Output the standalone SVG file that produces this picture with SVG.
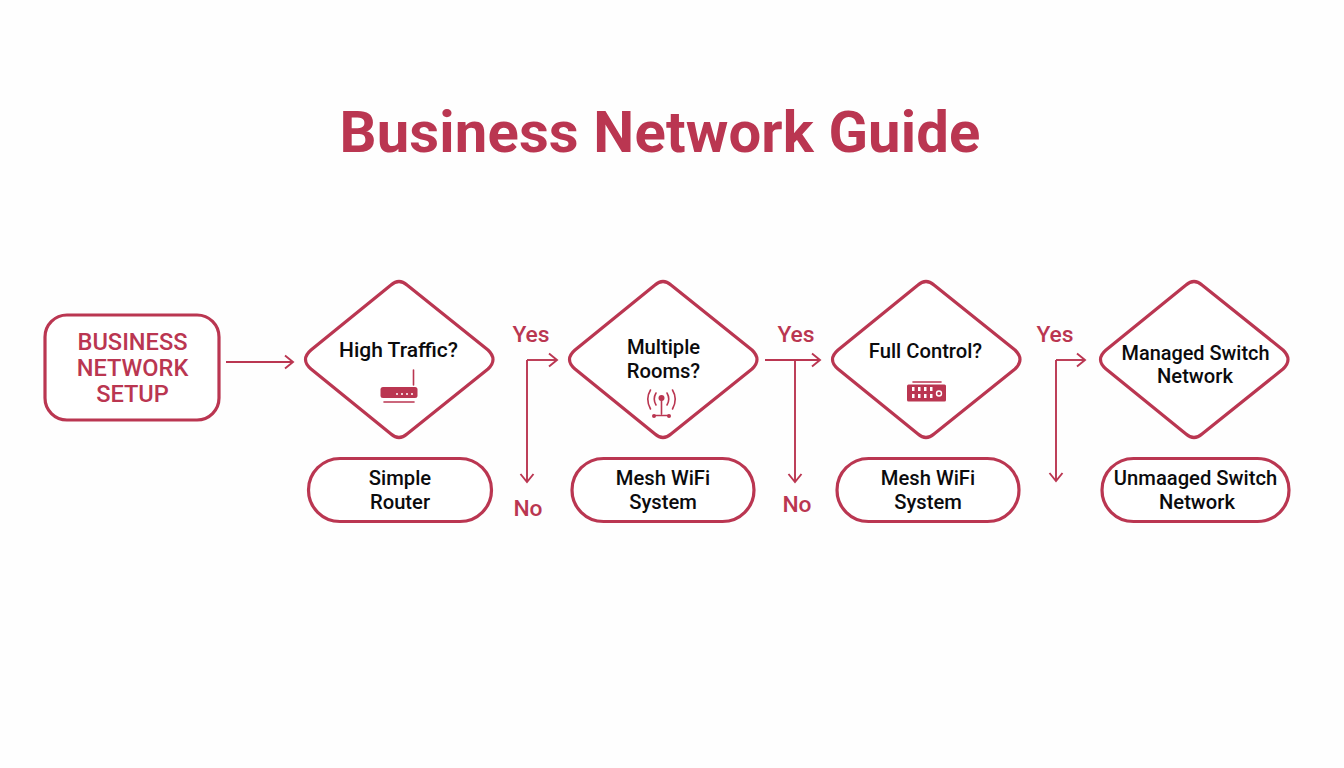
<svg xmlns="http://www.w3.org/2000/svg" width="1344" height="768" viewBox="0 0 1344 768">
<style>
.s{fill:#fff;stroke:#ba3651;stroke-width:3.2;stroke-linejoin:round}
.c{fill:none;stroke:#ba3651;stroke-width:1.9}
.i{fill:#ba3651}
.il{fill:none;stroke:#ba3651;stroke-width:1.6;stroke-linecap:round}
text{font-family:Roboto,"Liberation Sans",sans-serif;text-anchor:middle}
.t{font-size:20.200px;font-weight:500;fill:#0b0b0d}
.r{font-size:22.800px;font-weight:500;fill:#ba3651}
.b{font-size:23.600px;font-weight:500;fill:#ba3651}
</style>
<defs>
<marker id="a" markerUnits="userSpaceOnUse" markerWidth="14" markerHeight="16" refX="11" refY="8" orient="auto"><path d="M3 1.500L11 8L3 14.500" fill="none" stroke="#ba3651" stroke-width="1.900"/></marker>
</defs>
<rect width="1344" height="768" fill="#fefefe"/>
<text id="title" x="660" y="152" font-size="58" font-weight="700" fill="#ba3651" letter-spacing="0.150">Business Network Guide</text>
<g id="connectors">
<path class="c" marker-end="url(#a)" d="M226 362H293"/>
<path class="c" marker-end="url(#a)" d="M527 360H557"/>
<path class="c" marker-end="url(#a)" d="M527 360V482"/>
<path class="c" marker-end="url(#a)" d="M765 360H820"/>
<path class="c" marker-end="url(#a)" d="M795 360V482"/>
<path class="c" marker-end="url(#a)" d="M1056 360H1085"/>
<path class="c" marker-end="url(#a)" d="M1056 360V481"/>
</g>
<g id="labels">
<text class="r" x="531" y="342">Yes</text>
<text class="r" x="528" y="516">No</text>
<text class="r" x="796" y="342">Yes</text>
<text class="r" x="797" y="512">No</text>
<text class="r" x="1055" y="342">Yes</text>
</g>
<g id="start">
<rect class="s" x="45" y="315" width="174" height="105" rx="22"/>
<text class="b" x="132.500" y="350">BUSINESS</text>
<text class="b" x="132.500" y="376">NETWORK</text>
<text class="b" x="132.500" y="402">SETUP</text>
</g>
<g id="d1">
<path class="s" d="M391 285Q399 278 407 285L488 350Q498 359.500 488 369L407 434Q399 441 391 434L311 369Q300 359.500 311 350Z"/>
<text class="t" x="398.500" y="357" style="font-size:21px">High Traffic?</text>
<path class="il" d="M413.500 370V385"/>
<rect class="i" x="380.500" y="387" width="37" height="11" rx="2.500"/>
<path class="il" d="M384 402H414"/>
<circle cx="397" cy="394" r="1" fill="#fff"/><circle cx="402" cy="394" r="1" fill="#fff"/><circle cx="407" cy="394" r="1" fill="#fff"/><circle cx="412" cy="394" r="1" fill="#fff"/>
</g>
<g id="d2">
<path class="s" d="M655 285Q663 278 671 285L752 350Q762 359.500 752 369L671 434Q663 441 655 434L575 369Q564 359.500 575 350Z"/>
<text class="t" x="663.500" y="354">Multiple</text>
<text class="t" x="663.500" y="378">Rooms?</text>
<circle class="i" cx="661.500" cy="398" r="3"/>
<path class="il" d="M661.500 399V414M654 415.500H669M656 393Q652.500 399 656 405M667 393Q670.500 399 667 405M650.500 390Q645 399 650.500 409M672.500 390Q678 399 672.500 409"/>
<circle class="i" cx="654" cy="416" r="2"/><circle class="i" cx="669" cy="416" r="2"/>
</g>
<g id="d3">
<path class="s" d="M918 285Q926 278 934 285L1015 350Q1025 359.500 1015 369L934 434Q926 441 918 434L838 369Q827 359.500 838 350Z"/>
<text class="t" x="925.500" y="358">Full Control?</text>
<path class="il" d="M913 382H941"/>
<rect class="i" x="907" y="384.500" width="39" height="17" rx="1.500"/>
<g fill="#fff"><rect x="912" y="387" width="2.500" height="4"/><rect x="918" y="387" width="2.500" height="4"/><rect x="924" y="387" width="2.500" height="4"/><rect x="930" y="387" width="2.500" height="4"/><rect x="912" y="394" width="2.500" height="4"/><rect x="918" y="394" width="2.500" height="4"/><rect x="924" y="394" width="2.500" height="4"/><rect x="930" y="394" width="2.500" height="4"/></g>
<circle cx="939" cy="393.500" r="2.500" fill="none" stroke="#fff" stroke-width="1.400"/>
</g>
<g id="d4">
<path class="s" d="M1186 285Q1194 278 1202 285L1283 350Q1293 359.500 1283 369L1202 434Q1194 441 1186 434L1106 369Q1095 359.500 1106 350Z"/>
<text class="t" x="1195.500" y="360" style="font-size:19.900px">Managed Switch</text>
<text class="t" x="1195" y="383">Network</text>
</g>
<g id="o1">
<rect class="s" x="308.500" y="458.500" width="183" height="63" rx="31.500"/>
<text class="t" x="400" y="485">Simple</text>
<text class="t" x="400" y="509">Router</text>
</g>
<g id="o2">
<rect class="s" x="572" y="458.500" width="182" height="63" rx="31.500"/>
<text class="t" x="663" y="485">Mesh WiFi</text>
<text class="t" x="663" y="509">System</text>
</g>
<g id="o3">
<rect class="s" x="837" y="458.500" width="182" height="63" rx="31.500"/>
<text class="t" x="928" y="485">Mesh WiFi</text>
<text class="t" x="928" y="509">System</text>
</g>
<g id="o4">
<rect class="s" x="1102" y="458.500" width="187" height="63" rx="31.500"/>
<text class="t" x="1195.500" y="485">Unmaaged Switch</text>
<text class="t" x="1197" y="509">Network</text>
</g>
</svg>
